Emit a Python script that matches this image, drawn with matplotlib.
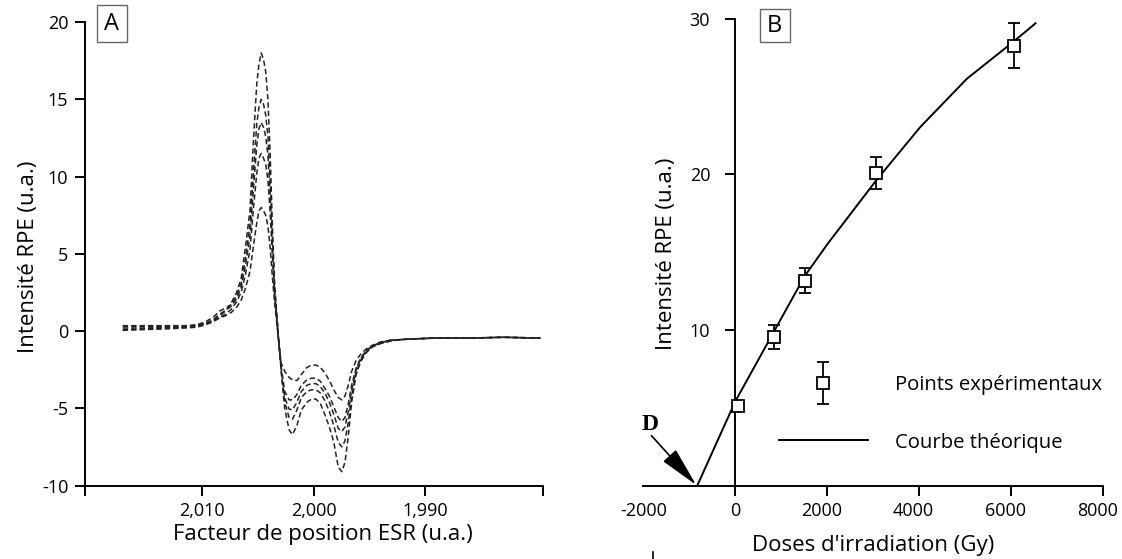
import matplotlib
matplotlib.use("Agg")
import matplotlib.pyplot as plt
from matplotlib.container import ErrorbarContainer
from matplotlib.legend_handler import HandlerErrorbar
from matplotlib.lines import Line2D
from matplotlib.patches import Rectangle
from matplotlib.transforms import ScaledTranslation

plt.rcParams['font.family'] = ['Open Sans', 'DejaVu Sans']
plt.rcParams['axes.unicode_minus'] = False

# Panel A: ESR spectra, one dashed curve per irradiation dose
g_factor = [2.0171, 2.0150, 2.0130, 2.0115, 2.0105, 2.0097, 2.0090, 2.0084,
            2.0079, 2.0074, 2.0069, 2.0065, 2.0061, 2.0057, 2.0054, 2.0051,
            2.0049, 2.0047, 2.0045, 2.0043, 2.0041, 2.0039, 2.0037, 2.0035,
            2.0033, 2.0031, 2.0029, 2.0026, 2.0022, 2.0019, 2.0015, 2.0011,
            2.0006, 2.0002, 1.9998, 1.9994, 1.9990, 1.9986, 1.9982, 1.9978,
            1.99748, 1.9972, 1.9969, 1.9966, 1.9962, 1.9958, 1.9953, 1.9947,
            1.9940, 1.9932, 1.9922, 1.9910, 1.9890, 1.9860, 1.9830, 1.9797]

spec_1 = [0.10, 0.15, 0.20, 0.25, 0.30, 0.45, 0.70, 1.00, 1.30, 1.80, 2.50, 3.40,
          5.5, 7.85, 12.3, 16.0, 17.3, 18.0,
          17.6, 16.8, 15.0, 11.5, 6.8, 3.0, 1.0, -0.9, -2.7, -5.0, -6.4, -6.7,
          -6.1, -5.1, -4.6, -4.4, -4.4, -4.7, -5.4, -6.2, -7.2, -8.8, -9.1,
          -8.5, -6.8, -4.6, -2.8, -2.0, -1.4, -1.0, -0.8, -0.65, -0.55, -0.5,
          -0.45, -0.45, -0.4, -0.45]
spec_2 = [0.30, 0.30, 0.30, 0.30, 0.40, 0.60, 0.90, 1.30, 1.50, 1.70, 2.30, 3.10,
          4.8, 6.9, 10.2, 13.4, 14.5, 15.0,
          14.7, 14.0, 12.6, 9.8, 6.0, 2.8, 0.9, -0.9, -2.6, -4.6, -5.6, -5.7,
          -5.1, -4.3, -3.9, -3.8, -3.8, -4.0, -4.5, -5.2, -6.1, -7.2, -7.5,
          -7.1, -5.9, -4.2, -2.7, -1.9, -1.35, -1.0, -0.8, -0.65, -0.55, -0.5,
          -0.45, -0.45, -0.4, -0.45]
spec_3 = [0.20, 0.20, 0.25, 0.25, 0.35, 0.50, 0.75, 1.10, 1.35, 1.60, 2.10, 2.80,
          4.3, 6.2, 9.2, 12.0, 13.1, 13.5,
          13.2, 12.6, 11.4, 8.9, 5.5, 2.6, 0.8, -0.9, -2.5, -4.3, -5.05, -5.1,
          -4.6, -3.9, -3.5, -3.4, -3.4, -3.6, -4.0, -4.6, -5.4, -6.3, -6.5,
          -6.2, -5.2, -3.8, -2.5, -1.8, -1.3, -0.95, -0.75, -0.6, -0.55, -0.5,
          -0.45, -0.45, -0.4, -0.45]
spec_4 = [0.05, 0.10, 0.15, 0.20, 0.25, 0.40, 0.60, 0.90, 1.10, 1.40, 1.90, 2.50,
          3.7, 5.3, 7.9, 10.2, 11.2, 11.5,
          11.2, 10.8, 9.8, 7.7, 4.8, 2.4, 0.7, -0.9, -2.4, -3.9, -4.45, -4.45,
          -4.1, -3.5, -3.15, -3.05, -3.05, -3.25, -3.7, -4.2, -4.9, -5.6, -5.85,
          -5.6, -4.7, -3.5, -2.4, -1.75, -1.25, -0.95, -0.75, -0.6, -0.55, -0.5,
          -0.45, -0.45, -0.4, -0.45]
spec_5 = [0.35, 0.35, 0.35, 0.35, 0.40, 0.50, 0.65, 0.85, 1.00, 1.20, 1.55, 2.00,
          2.8, 3.9, 5.5, 7.0, 7.8, 8.0,
          7.8, 7.5, 6.8, 5.4, 3.5, 1.8, 0.5, -1.0, -2.1, -2.6, -3.0, -3.15,
          -3.2, -2.8, -2.35, -2.2, -2.2, -2.35, -2.7, -3.2, -3.8, -4.3, -4.45,
          -4.2, -3.5, -2.6, -1.9, -1.5, -1.15, -0.9, -0.7, -0.6, -0.55, -0.5,
          -0.45, -0.45, -0.4, -0.45]
spectra = [spec_1, spec_2, spec_3, spec_4, spec_5]

g_range = [2.0205, 1.9795]
g_ticks = [2.010, 2.000, 1.990]
g_tick_labels = ['2,010', '2,000', '1,990']
intA_ticks = [-10, -5, 0, 5, 10, 15, 20]

# Panel B: dose response
dose = [50, 840, 1510, 3050, 6050]
intensity = [5.1, 9.56, 13.17, 20.08, 28.27]
intensity_err = [0.3, 0.77, 0.78, 1.0, 1.42]
fit_dose = [-826, 0, 841, 1511, 2009, 3053, 4019, 5031, 6059, 6526]
fit_intensity = [0, 5.41, 9.9, 13.47, 15.54, 19.57, 23.03, 26.13, 28.55, 29.70]
dose_ticks = [-2000, 0, 2000, 4000, 6000, 8000]
intB_ticks = [10, 20, 30]
d_tail = (-1822, 3.22)   # where the "D" arrow starts
d_tip = (-850, 0.05)     # extrapolated dose (curve hits zero)

fig = plt.figure(figsize=(11.22, 5.59), dpi=100)
W, H = 1122, 559

# ---------------- panel A ----------------
axA = fig.add_axes([84.8 / W, 1 - 485.6 / H, 457.8 / W, 463.5 / H])
for s in spectra:
    axA.plot(g_factor, s, color='#222222', lw=1.1, ls=(0, (3.5, 2.0)))
axA.set_xlim(g_range)
axA.set_ylim(-10, 20)
axA.set_yticks(intA_ticks)
axA.set_xticks(g_ticks, g_tick_labels)
axA.set_xticks(g_range, minor=True)
for side in ['top', 'right']:
    axA.spines[side].set_visible(False)
for side in ['left', 'bottom']:
    axA.spines[side].set_linewidth(1.4)
axA.tick_params(which='both', direction='out', length=7, width=1.4,
                labelsize=13, pad=5)
axA.set_ylabel('Intensité RPE (u.a.)', fontsize=16)
axA.set_xlabel('Facteur de position ESR (u.a.)', fontsize=16)
axA.yaxis.set_label_coords(-0.101, 0.493)
axA.xaxis.set_label_coords(0.519, -0.083)

# ---------------- panel B ----------------
axB = fig.add_axes([643.2 / W, 1 - 485.7 / H, 460.2 / W, 467.1 / H])
line, = axB.plot(fit_dose, fit_intensity, color='black', lw=1.4,
                 label='Courbe théorique')
eb = axB.errorbar(dose, intensity, yerr=intensity_err, fmt='s', ms=9,
                  mfc='white', mec='black', mew=1.3, ecolor='black',
                  elinewidth=1.3, capsize=4, capthick=1.3, zorder=3,
                  label='Points expérimentaux')
axB.set_xlim(-2000, 8000)
axB.set_ylim(0, 30)
axB.spines['left'].set_position(('data', 0))
for side in ['top', 'right']:
    axB.spines[side].set_visible(False)
for side in ['left', 'bottom']:
    axB.spines[side].set_linewidth(1.4)
axB.set_xticks(dose_ticks)
axB.set_yticks(intB_ticks)
axB.tick_params(direction='out', length=7, width=1.4)
axB.tick_params(axis='x', labelsize=13, pad=5)
axB.tick_params(axis='y', labelsize=13, pad=11)
axB.xaxis.get_major_ticks()[0].tick1line.set_visible(False)
# the positive dose labels sit a little left of their ticks in the source
shift = ScaledTranslation(-6 / 100, 0, fig.dpi_scale_trans)
for lab in axB.get_xticklabels()[2:]:
    lab.set_transform(lab.get_transform() + shift)
axB.set_ylabel('Intensité RPE (u.a.)', fontsize=16)
axB.set_xlabel("Doses d'irradiation (Gy)", fontsize=16)
axB.yaxis.set_label_coords(0.073, 0.496)
axB.xaxis.set_label_coords(0.5, -0.106)

axB.legend(handles=[eb, line], loc='upper left',
           bbox_to_anchor=(778.6 / W, 1 - 375 / H),
           bbox_transform=fig.transFigure, frameon=False, fontsize=14.6,
           numpoints=1, handlelength=4.4, handletextpad=1.35,
           labelspacing=1.85, borderpad=0, borderaxespad=0,
           handler_map={ErrorbarContainer: HandlerErrorbar(yerr_size=1.05)})

axB.annotate('', xy=d_tip, xytext=d_tail,
             arrowprops=dict(arrowstyle='-|>,head_length=1.25,head_width=0.27',
                             mutation_scale=20, color='black', lw=1.2,
                             shrinkA=0, shrinkB=0))
axB.text(d_tail[0] - 30, d_tail[1] + 0.05, 'D', fontsize=17, fontweight='bold',
         family='Liberation Serif', ha='center', va='bottom')

# panel letters in boxes
for label, (x0, y0, x1, y1) in [('A', (97, 5.3, 126.6, 42)),
                                ('B', (759.6, 9, 790, 42))]:
    fig.add_artist(Rectangle((x0 / W, 1 - y1 / H), (x1 - x0) / W, (y1 - y0) / H,
                             transform=fig.transFigure, fill=False,
                             ec='#666666', lw=1))
    fig.text((x0 + x1) / 2 / W, 1 - (y0 + y1) / 2 / H, label, fontsize=17,
             ha='center', va='center')

# small stray stroke below panel B, as in the source figure
fig.add_artist(Line2D([652.5 / W, 652.5 / W], [0, 7 / H],
                      transform=fig.transFigure, color='black', lw=1.2))

fig.savefig('out.png', dpi=100)
